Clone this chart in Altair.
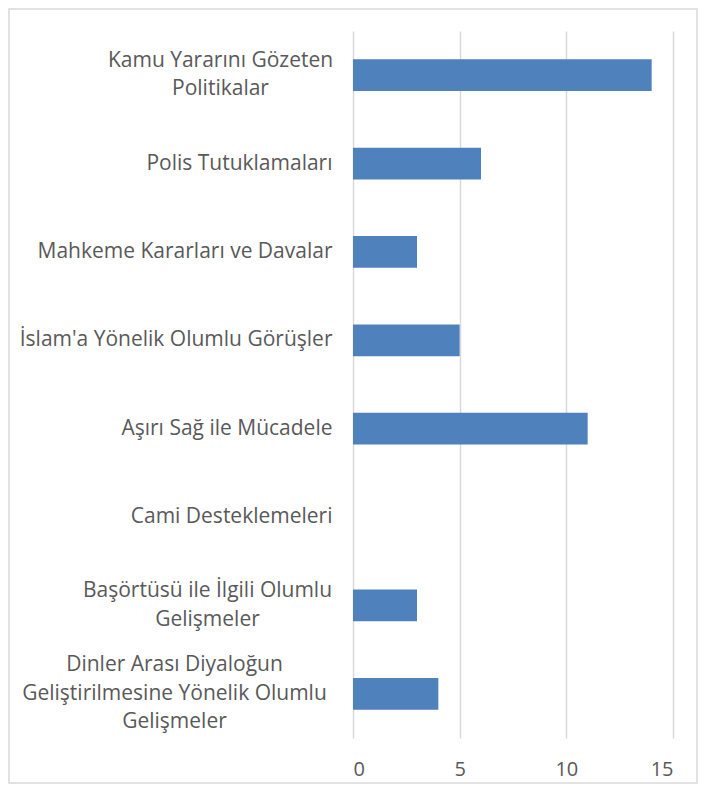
import altair as alt
import pandas as pd

categories = [
    "Kamu Yararını Gözeten\nPolitikalar",
    "Polis Tutuklamaları",
    "Mahkeme Kararları ve Davalar",
    "İslam'a Yönelik Olumlu Görüşler",
    "Aşırı Sağ ile Mücadele",
    "Cami Desteklemeleri",
    "Başörtüsü ile İlgili Olumlu\nGelişmeler",
    "Dinler Arası Diyaloğun\nGeliştirilmesine Yönelik Olumlu\nGelişmeler",
]
values = [14, 6, 3, 5, 11, 0, 3, 4]
x_ticks = [0, 5, 10, 15]

df = pd.DataFrame({"kategori": categories, "deger": values})

FONT = "Open Sans"
TEXT = "#595959"
LINE_H = 28.5

n_lines = "length(split(datum.value, '\\n'))"

bars = alt.Chart(df).mark_bar(color="#4F81BD").encode(
    x=alt.X(
        "deger:Q",
        scale=alt.Scale(domain=[0, 15], nice=False),
        axis=alt.Axis(
            values=x_ticks,
            title=None,
            grid=True,
            gridColor="#D9D9D9",
            gridWidth=1.5,
            domain=False,
            ticks=False,
            tickSize=0,
            labelPadding=21,
            labelFont=FONT,
            labelFontSize=20,
            labelColor=TEXT,
        ),
    ),
    y=alt.Y(
        "kategori:N",
        sort=categories,
        scale=alt.Scale(paddingInner=0.64, paddingOuter=0.32),
        axis=alt.Axis(
            title=None,
            domain=False,
            ticks=False,
            tickSize=0,
            labelLimit=400,
            labelFont=FONT,
            labelFontSize=21,
            labelColor=TEXT,
            labelLineHeight=LINE_H,
            labelExpr="split(datum.label, '\\n')",
            labelOffset={
                "condition": [
                    {"test": n_lines + " == 3", "value": -LINE_H},
                    {"test": n_lines + " == 2", "value": -LINE_H / 2},
                ],
                "value": 0,
            },
            labelAlign={
                "condition": {"test": n_lines + " > 1", "value": "center"},
                "value": "right",
            },
            labelPadding={
                "condition": [
                    {"test": "indexof(datum.value, 'Kamu') >= 0", "value": 133},
                    {"test": "indexof(datum.value, 'Başörtüsü') >= 0", "value": 146},
                    {"test": "indexof(datum.value, 'Dinler') >= 0", "value": 179},
                ],
                "value": 21,
            },
        ),
    ),
)

border = alt.Chart(pd.DataFrame({"a": [0]})).mark_rect(
    fill=None, stroke="#D9D9D9", strokeWidth=1.5
).encode(
    x=alt.value(-344), x2=alt.value(344), y=alt.value(-22), y2=alt.value(752)
)

chart = alt.layer(border, bars).properties(
    width=320,
    height=707,
    autosize=alt.AutoSizeParams(type="none"),
    padding={"left": 345, "top": 23, "right": 25, "bottom": 46},
).configure_view(stroke=None)

chart.save("out.html", embed_options={"renderer": "svg", "actions": False})
